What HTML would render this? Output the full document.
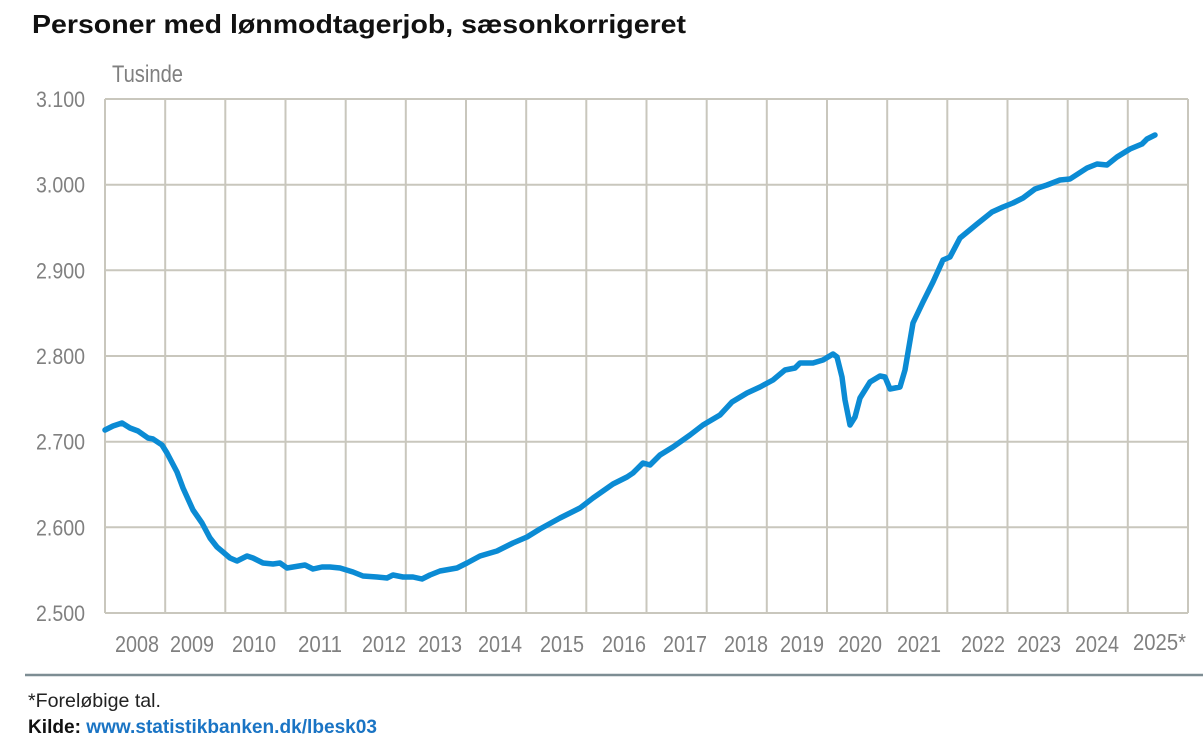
<!DOCTYPE html>
<html><head><meta charset="utf-8"><style>
html,body{margin:0;padding:0;background:#fff;}
svg{display:block;}
text{font-family:"Liberation Sans",Arial,sans-serif;}
</style></head><body>
<svg width="1203" height="740" viewBox="0 0 1203 740" xmlns="http://www.w3.org/2000/svg">
<rect width="1203" height="740" fill="#fff"/>
<text x="32" y="33" font-size="26" font-weight="bold" fill="#111" textLength="654" lengthAdjust="spacingAndGlyphs">Personer med lønmodtagerjob, sæsonkorrigeret</text>
<text x="112" y="82" font-size="24" fill="#808080" textLength="71" lengthAdjust="spacingAndGlyphs">Tusinde</text>
<g stroke="#c9c7bd" stroke-width="2" fill="none">
<line x1="105" y1="99" x2="1188" y2="99"/>
<line x1="105" y1="184.7" x2="1188" y2="184.7"/>
<line x1="105" y1="270.3" x2="1188" y2="270.3"/>
<line x1="105" y1="356" x2="1188" y2="356"/>
<line x1="105" y1="441.7" x2="1188" y2="441.7"/>
<line x1="105" y1="527.3" x2="1188" y2="527.3"/>
<line x1="105" y1="613" x2="1188" y2="613"/>
<line x1="105" y1="99" x2="105" y2="613"/>
<line x1="165.2" y1="99" x2="165.2" y2="613"/>
<line x1="225.3" y1="99" x2="225.3" y2="613"/>
<line x1="285.5" y1="99" x2="285.5" y2="613"/>
<line x1="345.7" y1="99" x2="345.7" y2="613"/>
<line x1="405.8" y1="99" x2="405.8" y2="613"/>
<line x1="466" y1="99" x2="466" y2="613"/>
<line x1="526.2" y1="99" x2="526.2" y2="613"/>
<line x1="586.3" y1="99" x2="586.3" y2="613"/>
<line x1="646.5" y1="99" x2="646.5" y2="613"/>
<line x1="706.7" y1="99" x2="706.7" y2="613"/>
<line x1="766.8" y1="99" x2="766.8" y2="613"/>
<line x1="827" y1="99" x2="827" y2="613"/>
<line x1="887.2" y1="99" x2="887.2" y2="613"/>
<line x1="947.3" y1="99" x2="947.3" y2="613"/>
<line x1="1007.5" y1="99" x2="1007.5" y2="613"/>
<line x1="1067.7" y1="99" x2="1067.7" y2="613"/>
<line x1="1127.8" y1="99" x2="1127.8" y2="613"/>
<line x1="1188" y1="99" x2="1188" y2="613"/>
</g>
<g font-size="22" fill="#808080" text-anchor="end">
<text x="85" y="107" textLength="49" lengthAdjust="spacingAndGlyphs">3.100</text>
<text x="85" y="192.7" textLength="49" lengthAdjust="spacingAndGlyphs">3.000</text>
<text x="85" y="278.3" textLength="49" lengthAdjust="spacingAndGlyphs">2.900</text>
<text x="85" y="364" textLength="49" lengthAdjust="spacingAndGlyphs">2.800</text>
<text x="85" y="449.7" textLength="49" lengthAdjust="spacingAndGlyphs">2.700</text>
<text x="85" y="535.3" textLength="49" lengthAdjust="spacingAndGlyphs">2.600</text>
<text x="85" y="621" textLength="49" lengthAdjust="spacingAndGlyphs">2.500</text>
</g>
<g font-size="23" fill="#808080">
<text x="115" y="652" textLength="44" lengthAdjust="spacingAndGlyphs">2008</text>
<text x="170" y="652" textLength="44" lengthAdjust="spacingAndGlyphs">2009</text>
<text x="232" y="652" textLength="44" lengthAdjust="spacingAndGlyphs">2010</text>
<text x="298" y="652" textLength="44" lengthAdjust="spacingAndGlyphs">2011</text>
<text x="362" y="652" textLength="44" lengthAdjust="spacingAndGlyphs">2012</text>
<text x="418" y="652" textLength="44" lengthAdjust="spacingAndGlyphs">2013</text>
<text x="478" y="652" textLength="44" lengthAdjust="spacingAndGlyphs">2014</text>
<text x="540" y="652" textLength="44" lengthAdjust="spacingAndGlyphs">2015</text>
<text x="602" y="652" textLength="44" lengthAdjust="spacingAndGlyphs">2016</text>
<text x="663" y="652" textLength="44" lengthAdjust="spacingAndGlyphs">2017</text>
<text x="724" y="652" textLength="44" lengthAdjust="spacingAndGlyphs">2018</text>
<text x="780" y="652" textLength="44" lengthAdjust="spacingAndGlyphs">2019</text>
<text x="838" y="652" textLength="44" lengthAdjust="spacingAndGlyphs">2020</text>
<text x="897" y="652" textLength="44" lengthAdjust="spacingAndGlyphs">2021</text>
<text x="961" y="652" textLength="44" lengthAdjust="spacingAndGlyphs">2022</text>
<text x="1017" y="652" textLength="44" lengthAdjust="spacingAndGlyphs">2023</text>
<text x="1075" y="652" textLength="44" lengthAdjust="spacingAndGlyphs">2024</text>
<text x="1133" y="650" textLength="53" lengthAdjust="spacingAndGlyphs">2025*</text>
</g>
<polyline fill="none" stroke="#0b8bd4" stroke-width="5.5" stroke-linejoin="round" stroke-linecap="round" points="105,430 113,426 122,423 130,428 138,431 148,438 153,439 162,445 167,453 177,472 183,488 193,510 202,523 210,538 217,547 223,552 230,558 237,561 247,556 253,558 263,563 273,564 280,563 287,568 293,567 305,565 313,569 322,567 330,567 340,568 353,572 363,576 377,577 387,578 393,575 403,577 413,577 422,579 430,575 440,571 457,568 467,563 480,556 497,551 513,543 527,537 540,529 560,518 580,508 593,498 613,484 627,477 633,473 643,463 650,465 660,455 673,447 690,435 703,425 720,415 732,402 747,393 760,387 773,380 785,370 795,368 800,363 813,363 823,360 833,354 837,357 842,377 845,400 850,425 855,417 860,398 870,382 880,376 885,377 890,389 900,387 905,370 913,323 923,302 933,282 943,260 950,257 960,238 977,224 992,212 1003,207 1013,203 1023,198 1035,189 1047,185 1060,180 1070,179 1087,168 1097,164 1107,165 1117,157 1130,149 1142,144 1147,139 1155,135"/>
<line x1="25" y1="675" x2="1203" y2="675" stroke="#7d8d93" stroke-width="2.5"/>
<text x="28" y="707" font-size="19.5" fill="#222" textLength="133" lengthAdjust="spacingAndGlyphs">*Foreløbige tal.</text>
<text x="28" y="733" font-size="19.5" font-weight="bold" textLength="349" lengthAdjust="spacingAndGlyphs"><tspan fill="#111">Kilde: </tspan><tspan fill="#1a74c4">www.statistikbanken.dk/lbesk03</tspan></text>
</svg>
</body></html>
